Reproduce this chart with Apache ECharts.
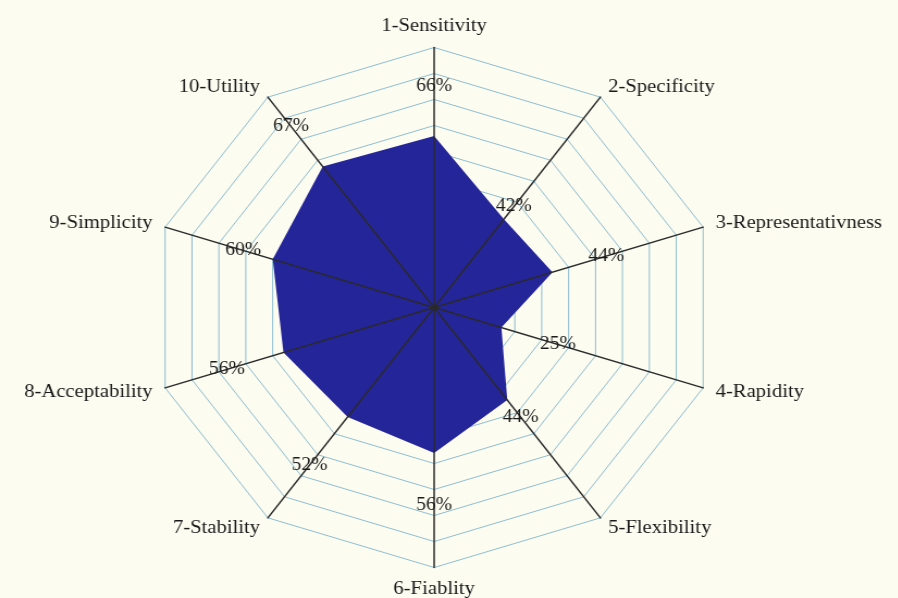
<!DOCTYPE html>
<html>
<head>
<meta charset="utf-8">
<script src="https://cdn.jsdelivr.net/npm/echarts@6/dist/echarts.min.js"></script>
<style>
    *{margin:0;padding:0;}
    body{background:#fdfcf0;width:898px;height:598px;overflow:hidden;}
    /* the picture is a bit wider than tall, so stretch the chart sideways */
    #main{width:825px;height:598px;transform:scaleX(1.088);transform-origin:0 0;}
</style>
</head>
<body>
<div id="main"></div>
<script>
var names = ['1-Sensitivity','2-Specificity','3-Representativness','4-Rapidity','5-Flexibility',
             '6-Fiablity','7-Stability','8-Acceptability','9-Simplicity','10-Utility'];
var scores = [66, 42, 44, 25, 44, 56, 52, 56, 60, 67];
// where each % label sits along its axis
var labelPos = [85, 48, 64, 46, 52, 76, 75, 77, 71, 86];

// echarts walks round counter-clockwise, the picture goes clockwise
var order = [0, 9, 8, 7, 6, 5, 4, 3, 2, 1];
var indicators = order.map(function (i) { return {name: names[i], min: 0, max: 100}; });

var font = 'Liberation Serif';
var myChart = echarts.init(document.getElementById('main'));
var option = {
    animation: false,
    radar: [
        {   // rings + names, under the filled area
            center: [399, 307.5],
            radius: 260,
            z: 1,
            indicator: indicators,
            splitNumber: 10,
            shape: 'polygon',
            nameGap: 12,
            axisName: {color: '#1a1a1a', fontFamily: font, fontSize: 19},
            splitLine: {lineStyle: {color: '#8dbdd0', width: 1}},
            splitArea: {show: false},
            axisLine: {show: false}
        },
        {   // spokes drawn on top of the filled area
            center: [399, 307.5],
            radius: 260,
            z: 3,
            indicator: indicators,
            splitNumber: 10,
            shape: 'polygon',
            axisName: {show: false},
            splitLine: {show: false},
            splitArea: {show: false},
            axisLine: {lineStyle: {color: '#2a2a2a', width: 1.5}}
        }
    ],
    series: [
        {
            type: 'radar',
            radarIndex: 0,
            z: 2,
            silent: true,
            symbol: 'none',
            lineStyle: {width: 0},
            areaStyle: {color: '#25259a', opacity: 1},
            data: [{value: order.map(function (i) { return scores[i]; })}]
        },
        {
            type: 'radar',
            radarIndex: 0,
            z: 5,
            silent: true,
            symbol: 'circle',
            symbolSize: 1,
            itemStyle: {color: 'transparent'},
            lineStyle: {width: 0, opacity: 0},
            label: {
                show: true,
                position: 'inside',
                color: '#1a1a1a',
                fontFamily: font,
                fontSize: 18,
                formatter: function (p) {
                    var j = p.dimensionIndex;
                    if (j == null) j = order.map(function (i) { return labelPos[i]; }).indexOf(p.value);
                    return scores[order[j]] + '%';
                }
            },
            data: [{value: order.map(function (i) { return labelPos[i]; })}]
        }
    ]
};
myChart.setOption(option);
</script>
</body>
</html>
